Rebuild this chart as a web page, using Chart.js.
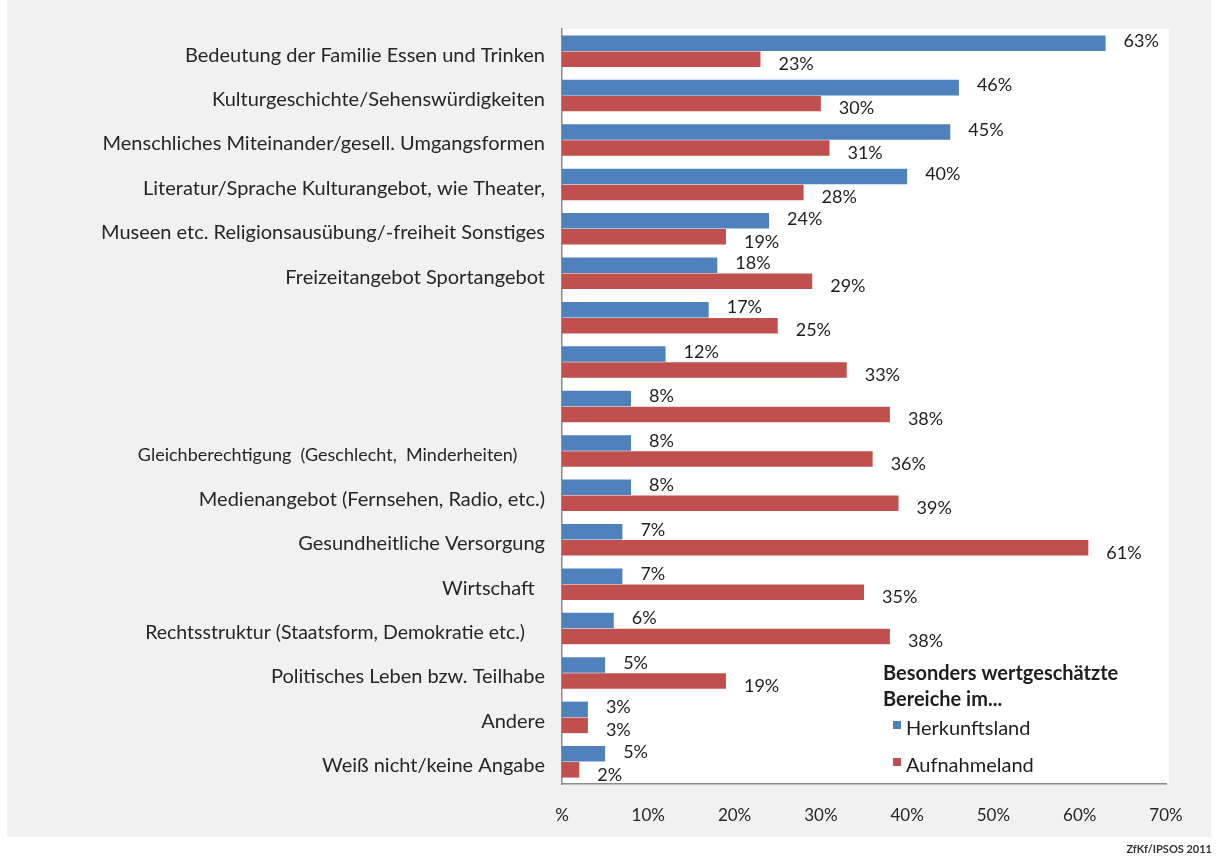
<!DOCTYPE html>
<html>
<head>
<meta charset="utf-8">
<script src="https://cdn.jsdelivr.net/npm/chart.js@4"></script>
<style>
  html, body { margin: 0; padding: 0; background: #ffffff; }
  .wrap { position: relative; width: 1216px; height: 861px; }
</style>
</head>
<body>
<div class="wrap"><canvas id="barChart"></canvas></div>
<script>
// categories (some rows have no label in the original)
var categories = [
    'Bedeutung der Familie Essen und Trinken',
    'Kulturgeschichte/Sehenswürdigkeiten',
    'Menschliches Miteinander/gesell. Umgangsformen',
    'Literatur/Sprache Kulturangebot, wie Theater,',
    'Museen etc. Religionsausübung/-freiheit Sonstiges',
    'Freizeitangebot Sportangebot',
    '',
    '',
    '',
    'Gleichberechtigung  (Geschlecht,  Minderheiten)      ',
    'Medienangebot (Fernsehen, Radio, etc.)',
    'Gesundheitliche Versorgung',
    'Wirtschaft  ',
    'Rechtsstruktur (Staatsform, Demokratie etc.)    ',
    'Politisches Leben bzw. Teilhabe',
    'Andere',
    'Weiß nicht/keine Angabe'
]
var herkunftsland = [63, 46, 45, 40, 24, 18, 17, 12, 8, 8, 8, 7, 7, 6, 5, 3, 5]
var aufnahmeland = [23, 30, 31, 28, 19, 29, 25, 33, 38, 36, 39, 61, 35, 38, 19, 3, 2]
var tickLabels = ['%', '10%', '20%', '30%', '40%', '50%', '60%', '70%']
var legendTitle = ['Besonders wertgeschätzte', 'Bereiche im...']
var source = 'ZfKf/IPSOS 2011'

var FONT = 'Lato, "Open Sans", sans-serif'

//Gray panel + white plot area
var background = {
    id: 'background',
    beforeDraw: function(chart) {
        var c = chart.ctx
        var a = chart.chartArea
        c.save()
        c.fillStyle = '#f1f1f1'
        c.fillRect(7, 0, 1204, 837)
        c.fillStyle = '#ffffff'
        c.fillRect(a.left, a.top, a.right - a.left + 3, a.bottom - a.top)
        c.restore()
    }
}

//Value labels next to the bars
var valueLabels = {
    id: 'valueLabels',
    afterDatasetsDraw: function(chart) {
        var c = chart.ctx
        c.save()
        c.font = '18px ' + FONT
        c.fillStyle = '#1e1e1e'
        c.textAlign = 'left'
        c.textBaseline = 'middle'
        chart.data.datasets.forEach(function(ds, d) {
            chart.getDatasetMeta(d).data.forEach(function(bar, i) {
                var dy = d == 0 ? -2 : 5
                c.fillText(ds.data[i] + '%', bar.x + 18, bar.y + dy)
            })
        })
        c.restore()
    }
}

//Legend inside the plot + source line
var legendBox = {
    id: 'legendBox',
    afterDraw: function(chart) {
        var c = chart.ctx
        c.save()
        c.textAlign = 'left'
        c.textBaseline = 'middle'
        c.fillStyle = '#1e1e1e'
        c.font = 'bold 20px ' + FONT
        c.fillText(legendTitle[0], 883, 674)
        c.fillText(legendTitle[1], 883, 700)
        c.font = '20px ' + FONT
        chart.data.datasets.forEach(function(ds, d) {
            var y = d == 0 ? 729 : 766
            c.fillStyle = ds.backgroundColor
            c.fillRect(893, y - 8, 8, 8)
            c.fillStyle = '#1e1e1e'
            c.fillText(ds.label, 906, y)
        })
        c.font = 'bold 11px ' + FONT
        c.textAlign = 'right'
        c.fillStyle = '#333333'
        c.fillText(source, 1212, 849)
        c.restore()
    }
}

var ctx = document.getElementById('barChart').getContext('2d');
var myChart = new Chart(ctx, {
    type: 'bar',
    data: {
        labels: categories,
        datasets: [{
            label: 'Herkunftsland',
            data: herkunftsland,
            backgroundColor: '#4f81bd'
        }, {
            label: 'Aufnahmeland',
            data: aufnahmeland,
            backgroundColor: '#c0504d'
        }]
    },
    options: {
        indexAxis: 'y',
        responsive: true,
        maintainAspectRatio: false,
        animation: false,
        layout: { padding: { top: 28, right: 50, left: 0, bottom: 0 } },
        datasets: {
            bar: { categoryPercentage: 0.72, barPercentage: 0.97 }
        },
        plugins: {
            legend: { display: false },
            tooltip: { enabled: false }
        },
        scales: {
            x: {
                min: 0,
                max: 70,
                grid: { display: false },
                border: { display: true, color: '#8c8c8c', width: 1.5 },
                afterFit: function(scale) { scale.height = 77 },
                ticks: {
                    stepSize: 10,
                    padding: 13,
                    color: '#262626',
                    font: { family: FONT, size: 17 },
                    callback: function(value) { return tickLabels[value / 10] }
                }
            },
            y: {
                grid: { display: false, drawTicks: false },
                border: { display: true, color: '#8c8c8c', width: 1.5 },
                afterFit: function(scale) { scale.width = 562 },
                ticks: {
                    autoSkip: false,
                    padding: 17,
                    labelOffset: 4,
                    color: '#262626',
                    font: function(c) {
                        if (c.index == 9) return { family: FONT, size: 18 }
                        if (c.index == 13) return { family: FONT, size: 19.5 }
                        return { family: FONT, size: 20 }
                    }
                }
            }
        }
    },
    plugins: [background, valueLabels, legendBox]
});
</script>
</body>
</html>
